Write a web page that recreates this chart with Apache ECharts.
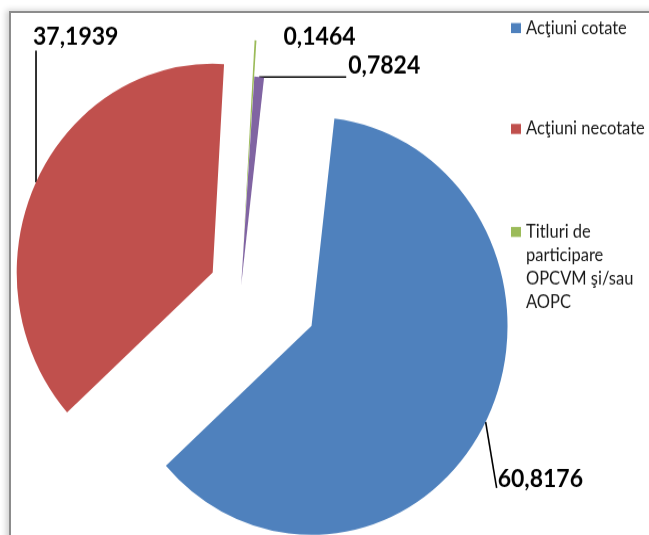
<!DOCTYPE html>
<html lang="ro">
<head>
    <meta charset="UTF-8">
    <title>Structura portofoliului</title>
    <script src="https://cdn.jsdelivr.net/npm/echarts@6/dist/echarts.min.js"></script>
    <style>
        *{
            margin:0;
            padding:0;
        }
        body {
            width: 649px;
            height: 535px;
            overflow: hidden;
            background: #fff;
            position: relative;
        }
        .frame {
            position: absolute;
            left: 9px;
            top: 11px;
            width: 2000px;
            height: 2000px;
            border-left: 2px solid #8c8c8c;
            border-top: 2px solid #8c8c8c;
            box-shadow: -3px -1px 6px rgba(0,0,0,0.18);
        }
        /* the picture is a bit taller than wide, so the round pie shows as an oval */
        #main {
            position: absolute;
            left: 0;
            top: 0;
            width: 649px;
            height: 502px;
            transform: scaleY(1.0657);
            transform-origin: 0 0;
        }
    </style>
</head>
<body>
<div class="frame"></div>
<div id="main"></div>
<script>

    // date
    var names = ['Acţiuni cotate', 'Acţiuni necotate', 'Titluri de participare OPCVM şi/sau AOPC', 'Alte instrumente'];
    // empty lines first, so the icon sits next to the first real line
    var legendText = ['Acţiuni cotate', 'Acţiuni necotate', '\n\n\nTitluri de\nparticipare\nOPCVM şi/sau\nAOPC'];
    var values = [60.8176, 37.1939, 0.1464, 0.7824];
    var valueLabels = ['60,8176', '37,1939', '0,1464', '0,7824'];

    // aspect
    var colors = ['#4f81bd', '#c0504d', '#9bbb59', '#8064a2'];
    var explode = [79.4, 31.4, 36, 2];
    var startCw = 6.7;              // grade, in sensul acelor de ceas de la ora 12
    var pieCenter = [241, 269.4];
    var pieRadius = 196;
    var labelOffset = [[12, 54], [-3, -136], [28, -3], [89, -11]];    // fata de punctul de pe arc
    var lineEnd = [[-1, 8], [3, 12.6], null, [-2, 7]];                 // fata de eticheta
    var legendTop = [15.3, 110, 140.6];

    var chart = echarts.init(document.getElementById('main'));

    var total = values.reduce(function (a, b) { return a + b; }, 0);
    var cum = 0;
    var mids = values.map(function (v) {
        var m = startCw + 360 * (cum + v / 2) / total;
        cum += v;
        return m * Math.PI / 180;
    });

    var series = values.map(function (val, i) {
        var c = [pieCenter[0] + explode[i] * Math.sin(mids[i]), pieCenter[1] - explode[i] * Math.cos(mids[i])];
        return {
            type: 'pie',
            radius: pieRadius,
            center: c,
            startAngle: 90 - startCw,
            clockwise: true,
            avoidLabelOverlap: false,
            silent: true,
            animation: false,
            itemStyle: { borderWidth: 0 },
            label: {
                show: false,
                position: 'outside',
                fontFamily: 'Lato',
                fontWeight: 'bold',
                fontSize: 23,
                color: '#000',
                formatter: function (p) { return valueLabels[i]; }
            },
            labelLine: {
                show: false,
                length: 10,
                length2: 10,
                lineStyle: { color: '#000', width: 1.6 }
            },
            labelLayout: function (p) {
                if (p.dataIndex !== i || !p.labelLinePoints) return {};
                var a = p.labelLinePoints[0];
                var x = a[0] + labelOffset[i][0];
                var y = a[1] + labelOffset[i][1];
                var e = lineEnd[i];
                var pts = e ? [a.slice(), [x + e[0], y + e[1]]] : [a.slice(), a.slice()];
                if (i === 3) pts[1][1] = a[1];
                return {
                    x: x,
                    y: y,
                    align: 'left',
                    verticalAlign: 'middle',
                    labelLinePoints: pts
                };
            },
            data: values.map(function (v, j) {
                if (j === i) {
                    return {
                        value: v,
                        name: names[j],
                        itemStyle: { color: colors[j] },
                        label: { show: true },
                        labelLine: { show: true, lineStyle: { opacity: lineEnd[j] ? 1 : 0 } }
                    };
                }
                return {
                    value: v,
                    name: '_' + i + '_' + j,
                    itemStyle: { color: 'rgba(0,0,0,0)' },
                    label: { show: false },
                    labelLine: { show: false }
                };
            })
        };
    });

    var legends = legendText.map(function (t, k) {
        return {
            data: [names[k]],
            orient: 'vertical',
            left: 511,
            top: legendTop[k],
            padding: 0,
            itemGap: 0,
            itemWidth: 10,
            itemHeight: 9.4,
            selectedMode: false,
            icon: 'rect',
            formatter: function () { return t; },
            textStyle: {
                fontFamily: 'Lato',
                fontSize: 16.5,
                color: '#1a1a1a',
                lineHeight: 22
            }
        };
    });

    var option = {
        animation: false,
        legend: legends,
        series: series
    };

    chart.setOption(option);

</script>
</body>
</html>
